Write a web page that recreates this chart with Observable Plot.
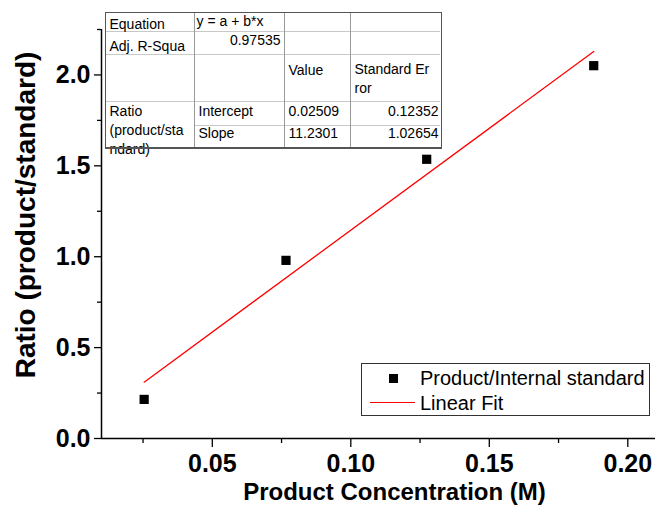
<!DOCTYPE html>
<html>
<head>
<meta charset="utf-8">
<script src="https://cdn.jsdelivr.net/npm/d3@7"></script>
<script src="https://cdn.jsdelivr.net/npm/@observablehq/plot@0.6"></script>
<style>
  html, body { margin: 0; padding: 0; background: #fff; }
  #wrap { position: relative; width: 657px; height: 508px; font-family: "Liberation Sans", Arial, Helvetica, sans-serif; }
  #wrap svg { position: absolute; left: 0; top: 0; }
  .tbl { position: absolute; left: 105px; top: 12px; width: 337px; height: 136px; border: 1.5px solid #555; background: #fff; box-sizing: border-box; }
  .tt { position: absolute; font-size: 14px; line-height: 18px; color: #000; white-space: nowrap; }
  .hl { position: absolute; height: 1px; background: #c8c8c8; }
  .vl { position: absolute; width: 1px; background: #999; }
  .leg { position: absolute; left: 361px; top: 363px; width: 289px; height: 53px; border: 1px solid #333; background: #fff; box-sizing: border-box; }
  .lt { position: absolute; font-size: 20px; line-height: 24px; color: #000; white-space: nowrap; }
  .ylab { position: absolute; left: 26px; top: 215px; transform: translate(-50%, -50%) rotate(-90deg); font-size: 28px; font-weight: bold; line-height: 32px; white-space: nowrap; color: #000; }
</style>
</head>
<body>
<div id="wrap"></div>
<script>
// ---- data ----
const concentration = [0.0254, 0.0766, 0.1274, 0.1877];
const ratio = [0.215, 0.980, 1.536, 2.051];
const fitX = [0.0254, 0.1877];
const fitY = [0.310, 2.129];
const xMajor = [0.05, 0.10, 0.15, 0.20];
const xMinor = [0.025, 0.075, 0.125, 0.175];
const yMajor = [0.0, 0.5, 1.0, 1.5, 2.0];
const yMinor = [0.25, 0.75, 1.25, 1.75, 2.25];
const xLabel = "Product Concentration (M)";
const yLabel = "Ratio (product/standard)";
const seriesNames = ["Product/Internal standard", "Linear Fit"];
const tableRows = [
  ["Equation", "y = a + b*x", "", ""],
  ["Adj. R-Squa", "0.97535", "", ""],
  ["", "", "Value", "Standard Er|ror"],
  ["Ratio|(product/sta|ndard)", "Intercept", "0.02509", "0.12352"],
  ["", "Slope", "11.2301", "1.02654"]
];

const points = concentration.map((x, i) => ({x, y: ratio[i]}));
const fit = fitX.map((x, i) => ({x, y: fitY[i]}));
const font = '"Liberation Sans", Arial, Helvetica, sans-serif';

const chart = Plot.plot({
  width: 657,
  height: 508,
  marginLeft: 101,
  marginRight: 2,
  marginTop: 29,
  marginBottom: 70,
  style: {fontFamily: font, background: "white", color: "black"},
  x: {domain: [0.01, 0.21]},
  y: {domain: [0, 2.25]},
  marks: [
    Plot.line(fit, {x: "x", y: "y", stroke: "#ff0000", strokeWidth: 1.3}),
    Plot.dot(points, {x: "x", y: "y", symbol: "square", r: 5.2, fill: "black", stroke: "none"}),
    Plot.axisX({ticks: xMinor, tickSize: 5, tickFormat: () => "", label: null, strokeWidth: 1.3}),
    Plot.axisX({ticks: xMajor, tickSize: 9, tickPadding: 7, tickFormat: d3.format(".2f"), fontSize: 25, fontWeight: "bold", label: null, strokeWidth: 1.3}),
    Plot.axisY({ticks: yMinor, tickSize: 4, tickFormat: () => "", label: null, strokeWidth: 1.3}),
    Plot.axisY({ticks: yMajor, tickSize: 7, tickPadding: 4, tickFormat: d3.format(".1f"), fontSize: 25, fontWeight: "bold", label: null, strokeWidth: 1.3}),
    Plot.ruleY([0], {strokeWidth: 1.5}),
    Plot.ruleX([0.01], {strokeWidth: 1.5}),
    Plot.text([xLabel], {text: d => d, frameAnchor: "bottom", dx: 16, dy: 61, fontSize: 24, fontWeight: "bold"})
  ]
});

const wrap = document.getElementById("wrap");
wrap.appendChild(chart);

// y axis title
const yl = document.createElement("div");
yl.className = "ylab";
yl.textContent = yLabel;
wrap.appendChild(yl);

// ---- fit result table (Origin style) ----
const tbl = document.createElement("div");
tbl.className = "tbl";
wrap.appendChild(tbl);
const ox = 106.5, oy = 13.5;
function addLine(cls, x, y, w, h) {
  const d = document.createElement("div");
  d.className = cls;
  d.style.left = (x - ox) + "px";
  d.style.top = (y - oy) + "px";
  if (w != null) d.style.width = w + "px";
  if (h != null) d.style.height = h + "px";
  tbl.appendChild(d);
}
addLine("hl", 106.5, 31.5, 334);
addLine("hl", 106.5, 54, 334);
addLine("hl", 106.5, 101.5, 334);
addLine("hl", 194, 125.5, 246.5);
addLine("vl", 194, 13.5, null, 134);
addLine("vl", 284, 13.5, null, 134);
addLine("vl", 350, 13.5, null, 134);

function addText(str, x, yCenter, align, lh) {
  const d = document.createElement("div");
  d.className = "tt";
  const lines = str.split("|");
  const h = lh || 18;
  d.style.lineHeight = h + "px";
  d.style.whiteSpace = "pre";
  d.textContent = lines.join("\n");
  if (align === "right") {
    d.style.right = (440.5 - x) + "px";
    d.style.textAlign = "right";
  } else {
    d.style.left = (x - ox) + "px";
  }
  d.style.top = (yCenter - h / 2 - oy) + "px";
  tbl.appendChild(d);
  return d;
}
addText(tableRows[0][0], 110, 24);
addText(tableRows[0][1], 197, 21.5);
addText(tableRows[1][0], 110, 46.5);
addText(tableRows[1][1], 280, 40, "right");
addText(tableRows[2][2], 289, 70);
addText(tableRows[2][3], 355, 70, null, 18.5);
addText(tableRows[3][0], 110, 111.5, null, 19);
addText(tableRows[3][1], 199, 111.5);
addText(tableRows[3][2], 289, 111);
addText(tableRows[3][3], 438, 111, "right");
addText(tableRows[4][1], 199, 133.5);
addText(tableRows[4][2], 289, 133.5);
addText(tableRows[4][3], 438, 133.5, "right");
const bb = document.createElement("div");
bb.style.cssText = "position:absolute;left:105px;top:147px;width:337px;height:1.5px;background:#555;";
wrap.appendChild(bb);

// ---- legend ----
const leg = document.createElement("div");
leg.className = "leg";
wrap.appendChild(leg);
const sq = document.createElement("div");
sq.style.cssText = "position:absolute;left:27px;top:10px;width:9px;height:9px;background:#000;";
leg.appendChild(sq);
const ln = document.createElement("div");
ln.style.cssText = "position:absolute;left:8px;top:38px;width:45px;height:1.3px;background:#ff0000;";
leg.appendChild(ln);
const t1 = document.createElement("div");
t1.className = "lt"; t1.textContent = seriesNames[0];
t1.style.left = "58px"; t1.style.top = (378.3 - 12 - 364) + "px";
leg.appendChild(t1);
const t2 = document.createElement("div");
t2.className = "lt"; t2.textContent = seriesNames[1];
t2.style.left = "58px"; t2.style.top = (402.7 - 12 - 364) + "px";
leg.appendChild(t2);
</script>
</body>
</html>
